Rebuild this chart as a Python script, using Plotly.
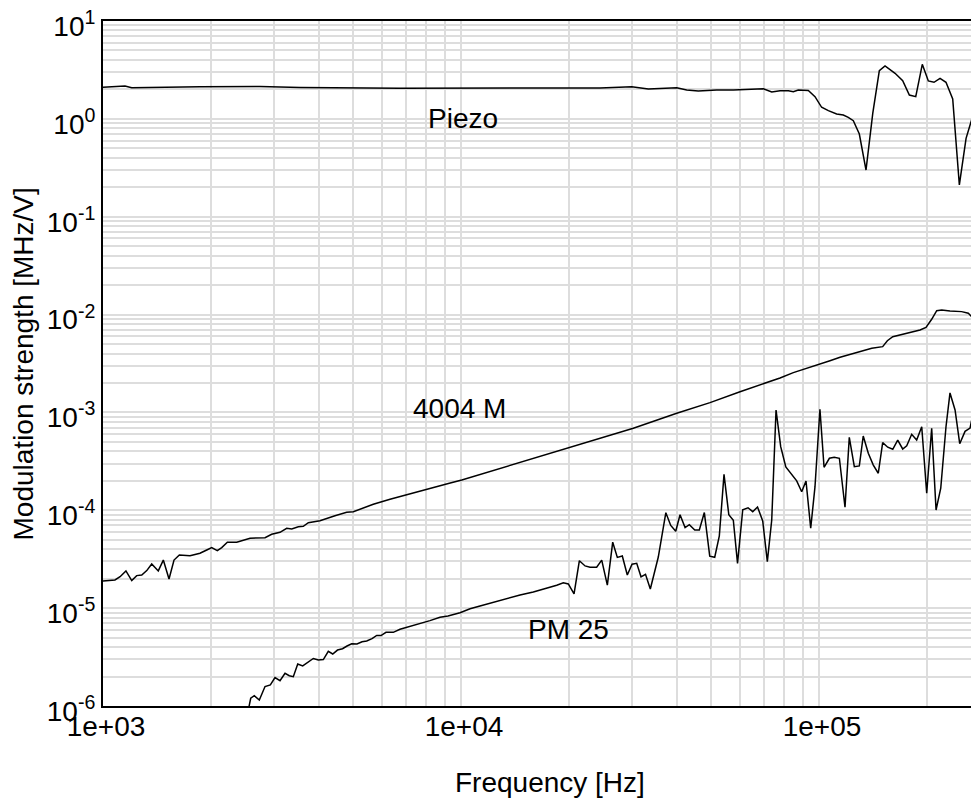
import math
import plotly.graph_objects as go

# ---------------- data ----------------
piezo_freq = [1000, 1152, 1203, 1353, 1866, 2745, 3551, 6755, 8351, 10370, 12850, 15920,
              19730, 24450, 29980, 33370, 40050, 42700, 46000, 51790, 57630, 64180, 69890,
              73780, 77830, 82120, 84770, 87530, 93350, 97450, 101700, 106200, 112000,
              116900, 120700, 124700, 129600, 135300, 141300, 147400, 152900, 163100,
              171300, 178800, 186300, 194300, 202000, 209500, 217800, 226300, 236300,
              246600, 257500, 267100, 279900]
piezo_val = [2.101, 2.167, 2.082, 2.101, 2.131, 2.141, 2.092, 2.053, 2.053, 2.033, 2.053, 2.053,
             2.033, 2.068, 2.131, 2.019, 2.082, 1.971, 1.926, 1.971, 1.971, 2.005, 2.029,
             1.882, 1.940, 1.940, 1.895, 1.971, 1.949, 1.685, 1.313, 1.212, 1.121,
             1.095, 1.037, 0.958, 0.700, 0.300, 1.140, 3.105, 3.469, 2.922,
             2.455, 1.753, 1.685, 3.610, 2.438, 2.364, 2.597, 2.364, 1.595,
             0.211, 0.633, 0.990, 0.845]

m4004_freq = [1000, 1046, 1080, 1116, 1159, 1203, 1242, 1283, 1325, 1368, 1427, 1474, 1529,
              1579, 1634, 1750, 1866, 1949, 2012, 2086, 2146, 2225, 2363, 2575, 2835, 2959,
              3122, 3259, 3366, 3512, 3627, 3746, 4037, 4446, 4794, 5003, 5280, 5689, 6335,
              7052, 8022, 9275, 10050, 24450, 30290, 40050, 49610, 60170, 64180, 69890,
              77830, 84770, 90400, 96400, 100600, 107300, 114500, 122100, 130200, 140400,
              150600, 155200, 160700, 172000, 183400, 191500, 199000, 206400, 213200,
              220200, 232200, 250300, 261200, 269800, 279900]
m4004_val = [1.897e-5, 1.941e-5, 1.94e-5, 2.094e-5, 2.40e-5, 1.91e-5, 2.15e-5, 2.18e-5,
             2.42e-5, 2.83e-5, 2.40e-5, 3.10e-5, 1.987e-5, 3.10e-5, 3.49e-5, 3.44e-5,
             3.64e-5, 3.93e-5, 4.15e-5, 3.87e-5, 4.15e-5, 4.71e-5, 4.71e-5, 5.18e-5,
             5.25e-5, 5.69e-5, 5.96e-5, 6.55e-5, 6.44e-5, 6.79e-5, 6.85e-5, 7.46e-5,
             7.83e-5, 8.81e-5, 9.53e-5, 9.67e-5, 1.047e-4, 1.151e-4, 1.294e-4, 1.432e-4,
             1.622e-4, 1.888e-4, 2.04e-4, 5.44e-4, 6.89e-4, 9.80e-4, 1.259e-3, 1.629e-3,
             1.766e-3, 1.977e-3, 2.25e-3, 2.55e-3, 2.76e-3, 3.01e-3, 3.18e-3, 3.38e-3,
             3.66e-3, 3.93e-3, 4.18e-3, 4.52e-3, 4.70e-3, 5.41e-3, 5.94e-3, 6.29e-3,
             6.68e-3, 6.95e-3, 7.41e-3, 8.95e-3, 1.096e-2, 1.114e-2, 1.089e-2, 1.072e-2,
             1.031e-2, 9.16e-3, 7.24e-3]

pm25_freq = [2540, 2586, 2646, 2733, 2835, 2934, 3023, 3122, 3224, 3314, 3401, 3499, 3613,
             3746, 3868, 3994, 4125, 4259, 4382, 4519, 4667, 4804, 4951, 5123, 5291, 5453,
             5642, 5815, 5978, 6173, 6470, 6755, 7202, 7680, 8190, 8736, 9197, 9936, 10600,
             11300, 12050, 12850, 13710, 14620, 15920, 17360, 18510, 19310, 19940, 20690,
             21410, 22210, 22930, 23930, 24720, 25630, 26530, 27330, 28220, 29140, 30040,
             30960, 31830, 32760, 33790, 35570, 37340, 38530, 39790, 40910, 42250, 43430,
             44970, 46310, 47830, 49520, 51130, 52670, 54280, 55980, 57630, 59210, 61230,
             63350, 65290, 67340, 69620, 71720, 73780, 75850, 78160, 80770, 83350, 86630,
             89460, 91980, 94800, 97450, 100600, 103300, 106900, 110300, 114000, 118200,
             121500, 125500, 129600, 132900, 137300, 141800, 146400, 150600, 155600, 160700,
             165900, 171300, 175800, 181500, 187400, 193600, 199900, 206400, 212300, 218800,
             226300, 232200, 239900, 247200, 255800, 264200, 272800, 279900]
pm25_val = [8.7e-7, 1.20e-6, 1.276e-6, 1.153e-6, 1.58e-6, 1.64e-6, 1.955e-6, 1.816e-6, 2.16e-6,
            2.04e-6, 1.995e-6, 2.69e-6, 2.565e-6, 2.84e-6, 3.06e-6, 2.95e-6, 2.985e-6, 3.62e-6,
            3.40e-6, 3.73e-6, 3.845e-6, 4.10e-6, 4.33e-6, 4.31e-6, 4.54e-6, 4.61e-6, 4.875e-6,
            5.26e-6, 5.24e-6, 5.66e-6, 5.66e-6, 6.08e-6, 6.47e-6, 6.89e-6, 7.45e-6, 8.07e-6,
            8.32e-6, 8.99e-6, 9.86e-6, 1.051e-5, 1.122e-5, 1.211e-5, 1.279e-5, 1.362e-5,
            1.462e-5, 1.596e-5, 1.714e-5, 1.82e-5, 1.766e-5, 1.396e-5, 3.055e-5, 2.70e-5,
            2.62e-5, 2.62e-5, 3.10e-5, 1.717e-5, 4.72e-5, 3.30e-5, 3.41e-5, 2.18e-5, 2.81e-5,
            2.87e-5, 2.09e-5, 2.22e-5, 1.57e-5, 3.33e-5, 9.44e-5, 7.0e-5, 6.10e-5, 9.01e-5,
            6.67e-5, 7.13e-5, 6.30e-5, 6.30e-5, 9.48e-5, 3.40e-5, 3.31e-5, 5.48e-5, 2.33e-4,
            9.01e-5, 7.91e-5, 2.87e-5, 1.014e-4, 1.061e-4, 9.68e-5, 1.081e-4, 7.78e-5,
            2.99e-5, 7.96e-5, 1.059e-3, 4.47e-4, 2.77e-4, 2.39e-4, 2.00e-4, 1.549e-4, 1.99e-4,
            6.55e-5, 1.742e-4, 1.076e-3, 2.75e-4, 3.40e-4, 3.48e-4, 3.40e-4, 1.074e-4,
            5.57e-4, 2.79e-4, 2.84e-4, 5.74e-4, 3.82e-4, 2.90e-4, 2.39e-4, 4.91e-4, 4.41e-4,
            4.20e-4, 5.22e-4, 4.23e-4, 4.57e-4, 5.98e-4, 5.22e-4, 7.14e-4, 1.493e-4, 6.89e-4,
            1.007e-4, 1.679e-4, 7.14e-4, 1.581e-3, 1.059e-3, 4.79e-4, 6.41e-4, 6.93e-4,
            1.227e-3, 5.05e-4]

x_tick_vals = [1e3, 1e4, 1e5]
x_tick_text = ["1e+03", "1e+04", "1e+05"]
y_tick_vals = [1e-6, 1e-5, 1e-4, 1e-3, 1e-2, 1e-1, 1e0, 1e1]
y_tick_text = ["10<sup>-6</sup>", "10<sup>-5</sup>", "10<sup>-4</sup>", "10<sup>-3</sup>",
               "10<sup>-2</sup>", "10<sup>-1</sup>", "10<sup>0</sup>", "10<sup>1</sup>"]

labels = ["Piezo", "4004 M", "PM 25"]
label_freq = [10130, 9872, 19950]
label_val = [1.009, 1.109e-3, 5.98e-6]

x_range = [1e3, 2.946e5]
y_range = [1e-6, 1e1]

# ---------------- figure ----------------
FONT = "Liberation Sans, Arial, Helvetica, sans-serif"
GRID = "#dddddd"

fig = go.Figure()
for fx, fy, name in [(piezo_freq, piezo_val, "Piezo"),
                     (m4004_freq, m4004_val, "4004 M"),
                     (pm25_freq, pm25_val, "PM 25")]:
    fig.add_trace(go.Scatter(x=fx, y=fy, mode="lines", name=name,
                             line=dict(color="black", width=1.5), showlegend=False))

for t, fx, fy in zip(labels, label_freq, label_val):
    fig.add_annotation(x=math.log10(fx), y=math.log10(fy), xref="x", yref="y", text=t,
                       showarrow=False, xanchor="center", yanchor="middle",
                       font=dict(family=FONT, size=28, color="black"))

fig.add_annotation(x=0.5057, y=-0.111, xref="paper", yref="paper", text="Frequency [Hz]",
                   showarrow=False, xanchor="center", yanchor="middle",
                   font=dict(family=FONT, size=28, color="black"))
fig.add_annotation(x=-0.0894, y=0.5, xref="paper", yref="paper",
                   text="Modulation strength [MHz/V]", textangle=-90,
                   showarrow=False, xanchor="center", yanchor="middle",
                   font=dict(family=FONT, size=28, color="black"))

fig.update_xaxes(type="log", range=[math.log10(v) for v in x_range], automargin=False,
                 tickvals=x_tick_vals, ticktext=x_tick_text, ticks="", ticklabelshift=3,
                 ticklabelstandoff=-6, ticklabeloverflow="allow",
                 showgrid=True, gridcolor=GRID, gridwidth=1.5,
                 minor=dict(showgrid=True, gridcolor=GRID, gridwidth=1.5, dtick="D1", ticks=""),
                 showline=True, linecolor="black", linewidth=2, mirror=True,
                 zeroline=False, tickfont=dict(family=FONT, size=28, color="black"))
fig.update_yaxes(type="log", range=[math.log10(v) for v in y_range], automargin=False,
                 tickvals=y_tick_vals, ticktext=y_tick_text, ticks="", ticklabelshift=5,
                 ticklabeloverflow="allow",
                 showgrid=True, gridcolor=GRID, gridwidth=1.5,
                 minor=dict(showgrid=True, gridcolor=GRID, gridwidth=1.5, dtick="D1", ticks=""),
                 showline=True, linecolor="black", linewidth=2, mirror=False,
                 zeroline=False, tickfont=dict(family=FONT, size=28, color="black"))

fig.update_layout(width=979, height=803, plot_bgcolor="white", paper_bgcolor="white",
                  margin=dict(l=95, r=0, t=13, b=105, autoexpand=False),
                  font=dict(family=FONT, size=28, color="black"))

fig.write_html("out.html")
